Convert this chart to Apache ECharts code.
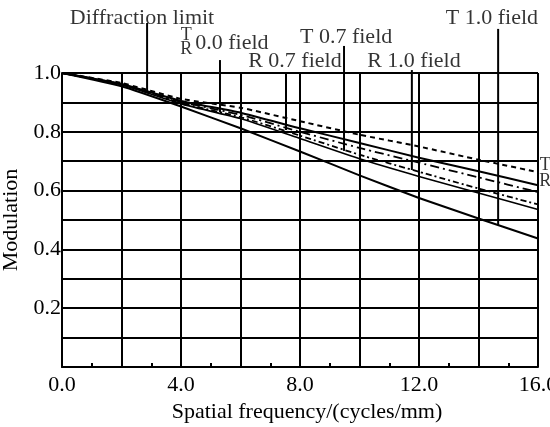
<!DOCTYPE html>
<html><head><meta charset="utf-8">
<script src="https://cdn.jsdelivr.net/npm/echarts@6/dist/echarts.min.js"></script>
<style>html,body{margin:0;padding:0;background:#fff}#c{width:550px;height:427px}</style>
</head><body><div id="c"></div>
<script>
const freq = [0, 2, 4, 6, 8, 10, 12, 14, 16];
const curveDashed  = [1, 0.966, 0.912, 0.882, 0.836, 0.790, 0.750, 0.705, 0.663];
const curveSolid1  = [1, 0.963, 0.905, 0.865, 0.812, 0.762, 0.712, 0.666, 0.618];
const curveDashDot1 = [1, 0.962, 0.902, 0.858, 0.800, 0.745, 0.695, 0.645, 0.595];
const curveDashDot2 = [1, 0.961, 0.898, 0.850, 0.787, 0.722, 0.664, 0.607, 0.553];
const curveSolid2  = [1, 0.960, 0.895, 0.845, 0.777, 0.708, 0.648, 0.592, 0.536];
const curveSolid3  = [1, 0.955, 0.886, 0.812, 0.733, 0.652, 0.575, 0.505, 0.437];

const leaderX      = [2.86, 5.31, 7.53, 9.48, 11.76, 14.66];
const leaderTop    = [1.170, 1.044, 1.003, 1.092, 1.010, 1.150];
const leaderBottom = [0.935, 0.867, 0.806, 0.735, 0.670, 0.483];

const annoText = ['Diffraction limit', '0.0 field', 'T', 'R', 'T 0.7 field', 'R 0.7 field', 'R 1.0 field', 'T 1.0 field', 'T', 'R'];
const annoX    = [2.69, 5.71, 4.18, 4.18, 9.55, 7.83, 11.83, 14.45, 16.24, 16.24];
const annoY    = [1.187, 1.102, 1.129, 1.082, 1.121, 1.041, 1.041, 1.187, 0.687, 0.633];
const annoSize = [22, 22, 18, 18, 22, 22, 22, 22, 18, 18];

const xTickLabels = ['0.0', '4.0', '8.0', '12.0', '16.0'];
const yTickLabels = ['0.2', '0.4', '0.6', '0.8', '1.0'];

const FONT = '"Liberation Serif", "Times New Roman", serif';
const pair = arr => freq.map((x, i) => [x, arr[i]]);
function curve(arr, type, width) {
  return { type: 'line', data: pair(arr), symbol: 'none', smooth: 0.15, z: 5,
    lineStyle: { color: '#000', width: width, type: type } };
}
const series = [
  curve(curveDashed, [5, 4], 2),
  curve(curveSolid1, 'solid', 2),
  curve(curveDashDot1, [9, 4, 2, 4], 1.8),
  curve(curveDashDot2, [6, 3, 2, 3], 1.8),
  curve(curveSolid2, 'solid', 1.6),
  curve(curveSolid3, 'solid', 2)
];
leaderX.forEach((x, i) => {
  series.push({ type: 'line', clip: false, symbol: 'none', z: 6,
    data: [[x, leaderTop[i]], [x, leaderBottom[i]]],
    lineStyle: { color: '#000', width: 2 } });
});
series.push({ type: 'scatter', clip: false, symbolSize: 0, z: 7,
  data: annoText.map((t, i) => ({ value: [annoX[i], annoY[i]], name: t,
    label: { show: true, position: 'inside', formatter: t, color: '#000',
      fontFamily: FONT, fontSize: annoSize[i] } })) });

const chart = echarts.init(document.getElementById('c'), null, { renderer: 'canvas' });
chart.setOption({
  backgroundColor: '#fff',
  animation: false,
  grid: { left: 62, right: 12, top: 73, bottom: 60, containLabel: false, outerBoundsMode: 'none' },
  xAxis: {
    type: 'value', min: 0, max: 16, interval: 2,
    name: 'Spatial frequency/(cycles/mm)', nameLocation: 'middle', nameGap: 33,
    nameTextStyle: { fontFamily: FONT, fontSize: 22, color: '#000', padding: [0, 0, 0, 14] },
    axisLine: { show: true, lineStyle: { color: '#000', width: 2 } },
    axisTick: { show: false, inside: true },
    minorTick: { show: true, splitNumber: 2, length: 4, lineStyle: { color: '#000', width: 2 } },
    splitLine: { show: true, lineStyle: { color: '#000', width: 2 } },
    axisLabel: { margin: 7, fontFamily: FONT, fontSize: 22, color: '#000', hideOverlap: false,
      formatter: v => (Math.round(v) % 4 === 0 ? xTickLabels[Math.round(v) / 4] : '') }
  },
  yAxis: {
    type: 'value', min: 0, max: 1, interval: 0.1,
    name: 'Modulation', nameLocation: 'middle', nameGap: 37,
    nameTextStyle: { fontFamily: FONT, fontSize: 22, color: '#000' },
    axisLine: { show: true, lineStyle: { color: '#000', width: 2 } },
    axisTick: { show: false },
    splitLine: { show: true, lineStyle: { color: '#000', width: 2 } },
    axisLabel: { margin: 1, padding: [10, 0, 0, 0], fontFamily: FONT, fontSize: 22, color: '#000',
      formatter: v => { const k = Math.round(v * 10); return (k > 0 && k % 2 === 0) ? yTickLabels[k / 2 - 1] : ''; } }
  },
  series: series
});
</script></body></html>
